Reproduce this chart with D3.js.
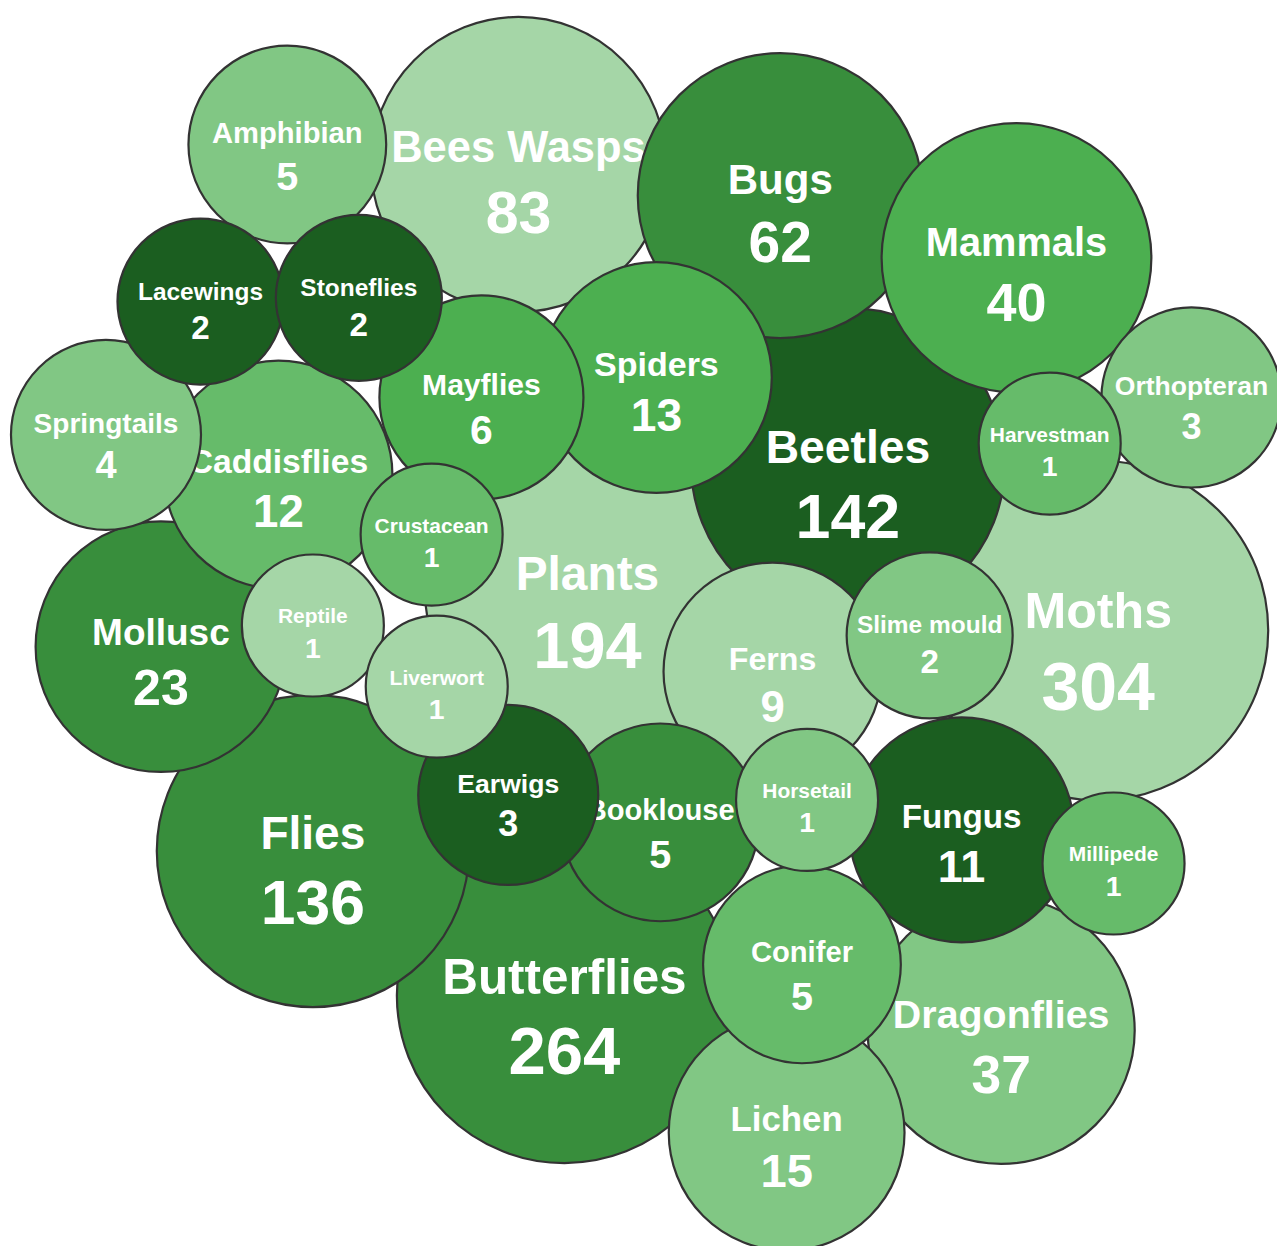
<!DOCTYPE html>
<html>
<head>
<meta charset="utf-8">
<title>Species bubbles</title>
<script src="https://cdn.jsdelivr.net/npm/d3@7"></script>
<style>
    body {
        margin: 0;
        background: #ffffff;
    }

    .bubble circle {
        stroke: #333333;
        stroke-width: 2.2;
    }

    .bubble text {
        fill: #ffffff;
        font-family: "Liberation Sans", Arial, sans-serif;
        font-weight: bold;
        text-anchor: middle;
    }
</style>
</head>
<body>
<svg id="bubbles" class="bubble-chart" width="1277" height="1246"></svg>
<script>
const CATEGORIES = [
    "Moths", "Butterflies", "Plants", "Beetles", "Flies", "Bees Wasps",
    "Bugs", "Mammals", "Dragonflies", "Mollusc", "Lichen", "Spiders",
    "Caddisflies", "Fungus", "Ferns", "Mayflies", "Amphibian", "Booklouse",
    "Conifer", "Springtails", "Orthopteran", "Earwigs", "Lacewings",
    "Stoneflies", "Slime mould", "Harvestman", "Crustacean", "Reptile",
    "Liverwort", "Horsetail", "Millipede"
];

const COUNTS = [
    304, 264, 194, 142, 136, 83,
    62, 40, 37, 23, 15, 13,
    12, 11, 9, 6, 5, 5,
    5, 4, 3, 3, 2,
    2, 2, 1, 1, 1,
    1, 1, 1
];

// Tone group of each bubble (a..f, light to dark)
const TONES = [
    "a", "e", "a", "f", "e", "a",
    "e", "d", "b", "e", "b", "d",
    "c", "f", "a", "d", "b", "e",
    "c", "b", "b", "f", "f",
    "f", "b", "c", "c", "a",
    "a", "b", "c"
];

// Layout, in percent of the drawing area
const LAYOUT_X = [
    86.0, 44.2, 46.0, 66.4, 24.5, 40.6,
    61.1, 79.6, 78.4, 12.6, 61.6, 51.4,
    21.8, 75.3, 60.5, 37.7, 22.5, 51.7,
    62.8, 8.3, 93.3, 39.8, 15.7,
    28.1, 72.8, 82.2, 33.8, 24.5,
    34.2, 63.2, 87.2
];

const LAYOUT_Y = [
    50.6, 79.9, 47.5, 37.3, 68.3, 13.2,
    15.7, 20.7, 82.7, 51.9, 90.9, 30.3,
    38.1, 66.6, 53.9, 31.9, 11.6, 66.0,
    77.4, 34.9, 31.9, 63.8, 24.2,
    23.9, 51.0, 35.6, 42.9, 50.2,
    55.1, 64.2, 69.3
];

const TONE_NAMES = ["a", "b", "c", "d", "e", "f"];
const TONE_COLORS = ["#a5d6a7", "#81c784", "#66bb6a", "#4caf50", "#388e3c", "#1b5e20"];

class BubblePresenter {

    constructor(targetSvg) {
        const self = this;

        self._targetSvg = targetSvg;
        const svgBoundingBox = self._targetSvg.getBoundingClientRect();
        self._svgWidth = svgBoundingBox.width;
        self._svgHeight = svgBoundingBox.height;

        // Position scales
        self._xScale = d3.scaleLinear()
            .domain([0, 100])
            .range([0, self._svgWidth]);

        self._yScale = d3.scaleLinear()
            .domain([0, 100])
            .range([0, self._svgHeight]);

        // Radius grows with the log of the count
        self._radiusScale = d3.scaleLog()
            .domain([1, d3.max(COUNTS)])
            .range([71, 170]);

        // Color scale
        self._colorScale = d3.scaleOrdinal()
            .domain(TONE_NAMES)
            .range(TONE_COLORS);
    }

    update() {
        const self = this;

        const bubbleInfo = CATEGORIES.map((name, i) => {
            return {
                "name": name,
                "value": COUNTS[i],
                "tone": TONES[i],
                "x": LAYOUT_X[i],
                "y": LAYOUT_Y[i]
            };
        });

        // Big bubbles first so the small ones sit on top
        bubbleInfo.sort((a, b) => b["value"] - a["value"]);

        const svgSelection = d3.select(self._targetSvg);
        const getRadius = (datum) => self._radiusScale(datum["value"]);

        const groups = svgSelection.selectAll(".bubble")
            .data(bubbleInfo)
            .enter()
            .append("g")
            .classed("bubble", true)
            .attr("transform", (datum) => {
                const x = self._xScale(datum["x"]);
                const y = self._yScale(datum["y"]);
                return "translate(" + x + " " + y + ")";
            });

        groups.append("circle")
            .attr("cx", 0)
            .attr("cy", 0)
            .attr("r", getRadius)
            .style("fill", (datum) => self._colorScale(datum["tone"]));

        groups.append("text")
            .classed("label", true)
            .attr("x", 0)
            .attr("y", -2)
            .style("font-size", (datum) => getRadius(datum) * 0.295 + "px")
            .text((datum) => datum["name"]);

        groups.append("text")
            .classed("value", true)
            .attr("x", 0)
            .attr("y", (datum) => getRadius(datum) * 0.48 - 2)
            .style("font-size", (datum) => getRadius(datum) * 0.4 + "px")
            .text((datum) => datum["value"]);
    }

}

const presenter = new BubblePresenter(document.getElementById("bubbles"));
presenter.update();
</script>
</body>
</html>
